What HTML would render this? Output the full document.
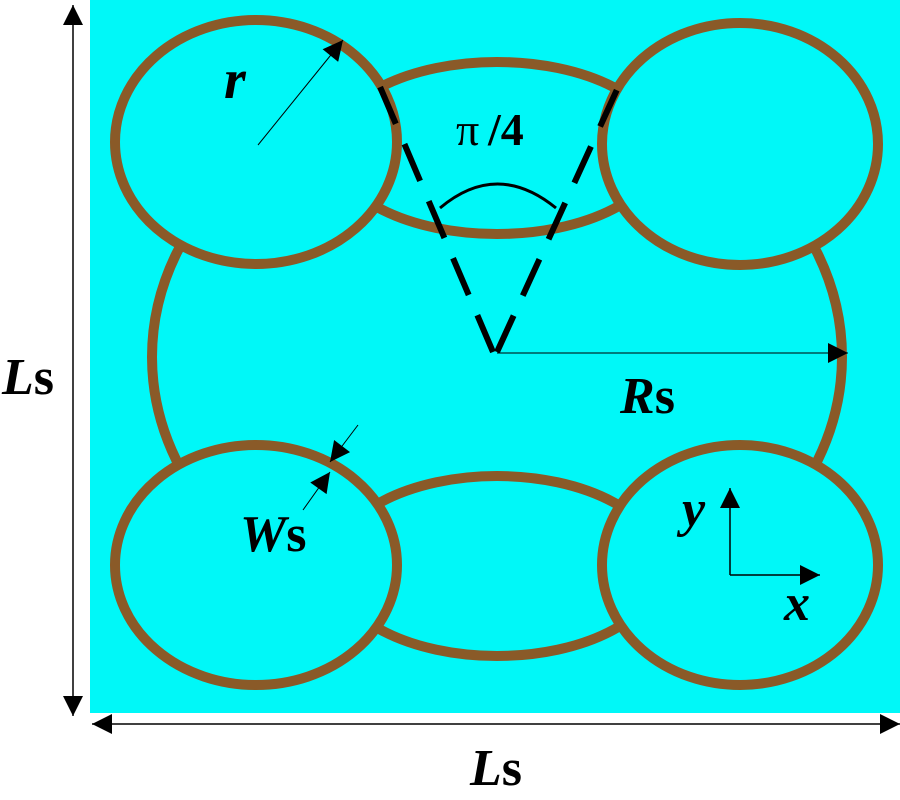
<!DOCTYPE html>
<html><head><style>body{margin:0;background:#fff}svg{display:block}</style></head><body>
<svg width="900" height="800" viewBox="0 0 900 800" xmlns="http://www.w3.org/2000/svg">
<defs>
<marker id="b" viewBox="0 0 10 10" refX="10" refY="5" markerWidth="22" markerHeight="20" markerUnits="userSpaceOnUse" orient="auto"><path d="M0,0L10,5L0,10z" fill="#000"/></marker>
</defs>
<rect x="90" y="0" width="810" height="713" fill="#00f8f8"/>
<g fill="#00f8f8" stroke="#8a5a28" stroke-width="10">
<ellipse cx="497" cy="357" rx="345" ry="280"/>
<ellipse cx="497" cy="148" rx="165" ry="86"/>
<ellipse cx="497" cy="566" rx="165" ry="90"/>
<ellipse cx="256" cy="142" rx="141" ry="122"/>
<ellipse cx="740" cy="144" rx="138" ry="121"/>
<ellipse cx="256" cy="565" rx="141" ry="120"/>
<ellipse cx="740" cy="565" rx="138" ry="120"/>
</g>
<rect x="0" y="713" width="900" height="87" fill="#fff"/>
<g stroke="#000" fill="none">
<path d="M493,352L375,75M497,352L625,72" stroke-width="6" stroke-dasharray="40,22"/>
<path d="M440,208Q497,160 556,208" stroke-width="3"/>
<line x1="258" y1="145" x2="343" y2="40" stroke-width="1" marker-end="url(#b)"/>
<line x1="497" y1="353" x2="848" y2="353" stroke-width="1" marker-end="url(#b)"/>
<line x1="358" y1="425" x2="330" y2="462" stroke-width="1" marker-end="url(#b)"/>
<line x1="303" y1="510" x2="330" y2="472" stroke-width="1" marker-end="url(#b)"/>
<line x1="730" y1="575" x2="730" y2="488" stroke-width="1.5" marker-end="url(#b)"/>
<line x1="730" y1="575" x2="820" y2="575" stroke-width="1.5" marker-end="url(#b)"/>
<line x1="73" y1="360" x2="73" y2="5" stroke-width="1.5" marker-end="url(#b)"/>
<line x1="73" y1="360" x2="73" y2="716" stroke-width="1.5" marker-end="url(#b)"/>
<line x1="490" y1="724" x2="92" y2="724" stroke-width="1.5" marker-end="url(#b)"/>
<line x1="490" y1="724" x2="900" y2="724" stroke-width="1.5" marker-end="url(#b)"/>
</g>
<g font-family="Liberation Serif, serif" font-weight="bold" fill="#000">
<text x="224" y="98" font-size="56" font-style="italic">r</text>
<text x="456" y="145" font-size="46" font-weight="normal">π</text>
<text x="488" y="145" font-size="46">/4</text>
<text x="620" y="413" font-size="52"><tspan font-style="italic">R</tspan>s</text>
<text x="2" y="394" font-size="52"><tspan font-style="italic">L</tspan>s</text>
<text x="240" y="551" font-size="52"><tspan font-style="italic">W</tspan>s</text>
<text x="682" y="526" font-size="52" font-style="italic">y</text>
<text x="784" y="620" font-size="52" font-style="italic">x</text>
<text x="470" y="785" font-size="52"><tspan font-style="italic">L</tspan>s</text>
</g>
</svg>
</body></html>
